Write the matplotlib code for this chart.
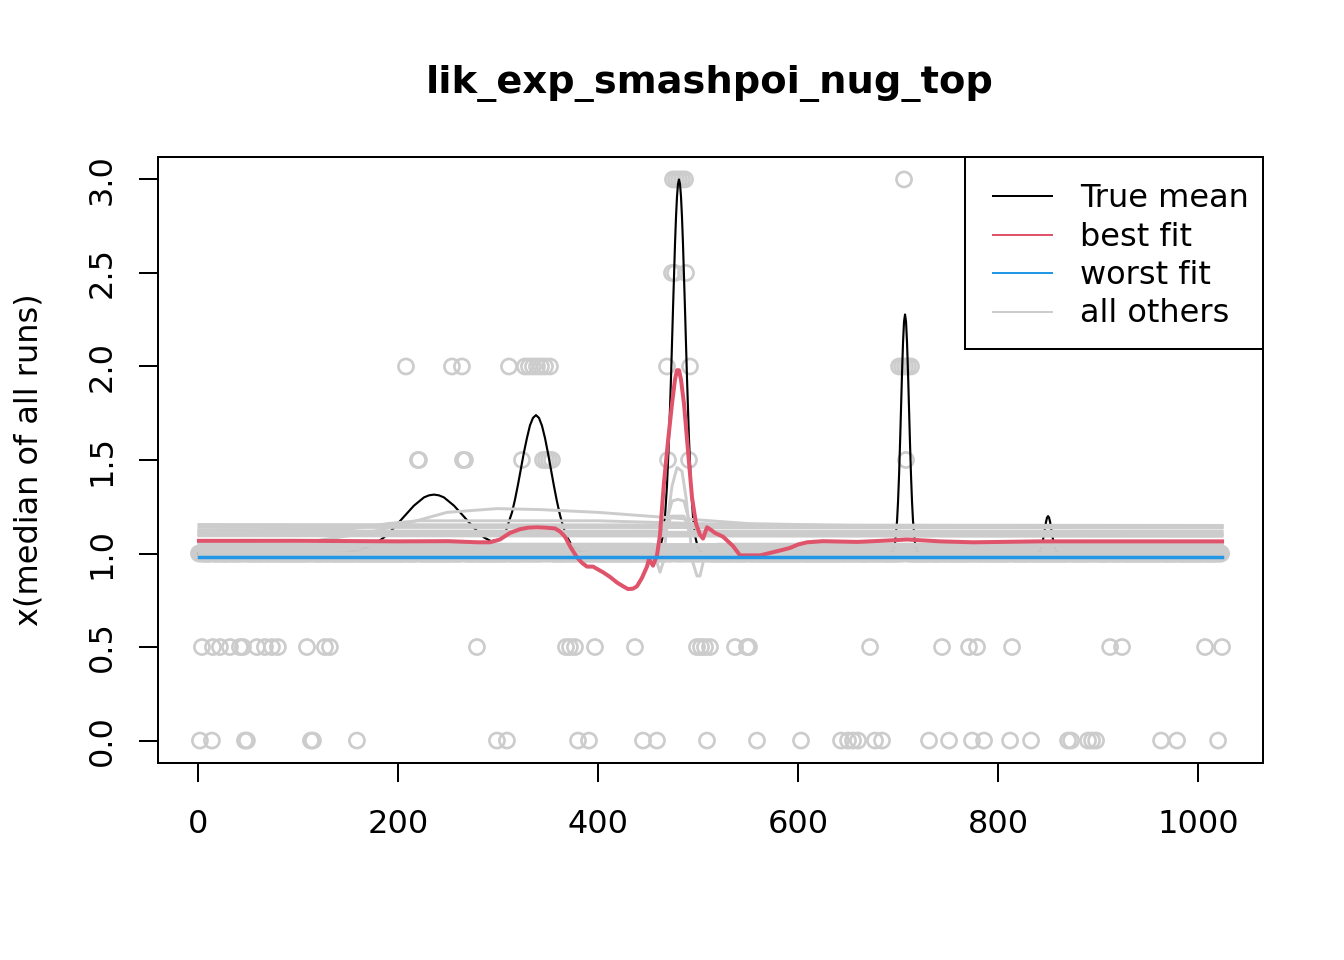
import numpy as np
import matplotlib.pyplot as plt
from matplotlib.lines import Line2D
from matplotlib.patches import Rectangle

n = 1024
idx = np.arange(1, n + 1)

# observed medians: 1.0 everywhere except at these positions
x_at_0 = [2, 14, 32, 47, 49, 113, 115, 159, 299, 309, 380, 391, 437, 445, 459,
          509, 559, 603, 643, 650, 655, 660, 677, 684, 731, 751, 774, 779, 786,
          812, 833, 870, 873, 890, 894, 898, 963, 979, 1020]
x_at_05 = [4, 15, 22, 32, 42, 45, 59, 67, 74, 80, 109, 127, 132, 279, 368, 372,
           377, 397, 437, 499, 503, 507, 512, 537, 549, 551, 672, 744, 771, 779,
           814, 912, 924, 1007, 1024]
x_at_15 = [220, 221, 265, 267, 324, 345, 348, 351, 354, 470, 491, 708]
x_at_2 = [208, 254, 264, 311, 327, 331, 335, 339, 343, 347, 352, 469, 474, 487,
          492, 701, 704, 707, 710, 713]
x_at_25 = [474, 477, 488]
x_at_3 = [475, 478, 481, 484, 487, 706]

# true mean
tm_x = [1, 120, 146, 161, 176, 186, 196, 206, 216, 226, 231, 236, 241, 246, 256,
        266, 276, 286, 293, 302, 308, 311, 314, 317, 320, 323, 326, 329, 332,
        335, 338, 341, 344, 347, 350, 353, 356, 359, 362, 365, 368, 374, 383,
        395, 455, 458, 462, 465, 467, 469, 471, 473, 475, 477, 478, 479, 480,
        481, 482, 483, 484, 485, 487, 489, 491, 493, 495, 497, 500, 504, 508,
        690, 692, 695, 697, 699, 700, 701, 702, 703, 704, 705, 706, 707, 708,
        709, 710, 711, 712, 713, 714, 715, 717, 719, 722, 725, 836, 839, 842,
        844, 846, 848, 849, 850, 851, 852, 854, 856, 858, 861, 864, 1024]
tm_y = [1.0, 1.0, 1.005, 1.017, 1.048, 1.086, 1.137, 1.197, 1.256, 1.30, 1.311,
        1.315, 1.311, 1.30, 1.256, 1.197, 1.137, 1.086, 1.066, 1.074, 1.121,
        1.172, 1.219, 1.288, 1.368, 1.455, 1.542, 1.618, 1.685, 1.725, 1.74,
        1.725, 1.683, 1.618, 1.537, 1.449, 1.36, 1.278, 1.206, 1.147, 1.10,
        1.041, 1.008, 1.0, 1.0, 1.004, 1.028, 1.096, 1.196, 1.364, 1.612, 1.938,
        2.306, 2.654, 2.798, 2.908, 2.976, 3.0, 2.976, 2.908, 2.798, 2.654,
        2.306, 1.938, 1.612, 1.364, 1.196, 1.096, 1.028, 1.004, 1.0, 1.0, 1.001,
        1.014, 1.056, 1.173, 1.276, 1.415, 1.585, 1.775, 1.965, 2.128, 2.24,
        2.278, 2.24, 2.128, 1.965, 1.775, 1.585, 1.415, 1.276, 1.173, 1.056,
        1.014, 1.001, 1.0, 1.0, 1.001, 1.015, 1.046, 1.104, 1.17, 1.192, 1.2,
        1.192, 1.17, 1.104, 1.046, 1.015, 1.001, 1.0, 1.0]

# best fit
best_x = [1, 100, 200, 250, 280, 292, 302, 312, 322, 330, 339, 348, 357, 362,
          367, 373, 379, 384, 389, 395, 405, 412, 419, 425, 430, 435, 439, 444,
          449, 451, 455, 459, 462, 466, 470, 474, 477, 479, 481, 483, 486, 490,
          494, 498, 502, 505, 509, 512, 517, 525, 535, 542, 562, 585, 592, 600,
          609, 625, 659, 692, 709, 742, 775, 842, 1024]
best_y = [1.068, 1.068, 1.065, 1.066, 1.06, 1.06, 1.075, 1.11, 1.13, 1.138, 1.14,
          1.138, 1.134, 1.118, 1.09, 1.03, 0.98, 0.95, 0.93, 0.93, 0.90, 0.875,
          0.845, 0.825, 0.81, 0.812, 0.825, 0.87, 0.93, 0.97, 0.935, 0.99, 1.1,
          1.38, 1.6, 1.8, 1.93, 1.98, 1.98, 1.93, 1.8, 1.55, 1.3, 1.16, 1.1,
          1.08, 1.14, 1.13, 1.11, 1.09, 1.04, 0.99, 0.99, 1.02, 1.03, 1.048,
          1.06, 1.066, 1.062, 1.07, 1.075, 1.065, 1.06, 1.065, 1.065]

# worst fit
worst_x = [1, 1024]
worst_y = [0.984, 0.984]

# all other runs: flat ones (left, right level) and a few shaped ones
flat_levels = [(1.155, 1.15), (1.14, 1.138), (1.115, 1.112), (1.105, 1.102),
               (1.095, 1.092), (1.05, 1.05), (1.04, 1.04), (1.025, 1.025),
               (1.01, 1.01), (1.0, 1.0), (0.995, 0.995)]
wide_x = [1, 120, 169, 215, 249, 299, 342, 400, 450, 500, 550, 650, 1024]
wide_y = [1.06, 1.07, 1.11, 1.17, 1.22, 1.24, 1.235, 1.22, 1.20, 1.18, 1.16,
          1.15, 1.148]
mid_x = [1, 150, 190, 220, 400, 500, 600, 1024]
mid_y = [1.125, 1.13, 1.16, 1.175, 1.175, 1.16, 1.145, 1.14]
spk1_x = [1, 455, 459, 462, 465, 470, 474, 479, 484, 488, 492, 495, 499, 502,
          505, 508, 520, 1024]
spk1_y = [1.05, 1.05, 0.95, 0.90, 0.95, 1.2, 1.36, 1.46, 1.44, 1.3, 1.1, 0.95,
          0.88, 0.88, 0.95, 1.03, 1.05, 1.05]
spk2_x = [1, 465, 470, 474, 480, 486, 490, 494, 1024]
spk2_y = [1.1, 1.1, 1.2, 1.28, 1.29, 1.28, 1.2, 1.1, 1.1]
spk3_x = [1, 468, 473, 486, 491, 1024]
spk3_y = [1.12, 1.12, 1.2, 1.2, 1.12, 1.12]

legend_labels = ['True mean', 'best fit', 'worst fit', 'all others']

grey = '#CCCCCC'
red = '#DF536B'
blue = '#2297E6'

obs = np.ones(n)
for xs, v in [(x_at_0, 0.0), (x_at_05, 0.5), (x_at_15, 1.5), (x_at_2, 2.0),
              (x_at_25, 2.5), (x_at_3, 3.0)]:
    obs[np.array(xs) - 1] = v

plt.rcParams['font.family'] = 'DejaVu Sans'
W, H = 1344, 960
fig = plt.figure(figsize=(7, 5), dpi=192)
ax = fig.add_axes([158 / W, 1 - 763 / H, 1105 / W, 606 / H])

ax.scatter(idx, obs, s=32, facecolors='none', edgecolors=grey, linewidths=1.0)
ax.plot(tm_x, tm_y, color='black', lw=0.8)
for a, b in flat_levels:
    ax.plot([1, n], [a, b], color=grey, lw=1.1)
for xs, ys in [(wide_x, wide_y), (mid_x, mid_y), (spk1_x, spk1_y),
               (spk2_x, spk2_y), (spk3_x, spk3_y)]:
    ax.plot(xs, ys, color=grey, lw=1.1)
ax.plot(best_x, best_y, color=red, lw=1.5)
ax.plot(worst_x, worst_y, color=blue, lw=1.3)

ax.set_xlim(1 - 0.04 * 1023, 1024 + 0.04 * 1023)
ax.set_ylim(-0.12, 3.12)
ax.set_xticks([0, 200, 400, 600, 800, 1000])
ax.set_yticks([0.0, 0.5, 1.0, 1.5, 2.0, 2.5, 3.0])
ax.set_yticklabels(['0.0', '0.5', '1.0', '1.5', '2.0', '2.5', '3.0'],
                   rotation=90, va='center')
ax.tick_params(length=7.2, width=0.75, labelsize=12)
ax.tick_params(axis='x', pad=10)
ax.tick_params(axis='y', pad=8)
for s in ax.spines.values():
    s.set_linewidth(0.75)

fig.text(710 / W, 1 - 93 / H, 'lik_exp_smashpoi_nug_top', ha='center',
         va='baseline', fontsize=14.4, fontweight='bold')
fig.text(29 / W, 1 - 460 / H, 'x(median of all runs)', rotation=90,
         ha='center', va='center', fontsize=12)

# legend box, R style
fig.patches.append(Rectangle((965 / W, 1 - 349 / H), 298 / W, 192 / H,
                             transform=fig.transFigure, facecolor='white',
                             edgecolor='black', lw=0.75, zorder=5))
for i, (lab, col) in enumerate(zip(legend_labels, ['black', red, blue, grey])):
    yy = 1 - (196 + 38.5 * i) / H
    fig.add_artist(Line2D([993 / W, 1052 / W], [yy, yy], color=col, lw=0.75,
                          transform=fig.transFigure, zorder=6))
    fig.text(1080 / W, yy - 2.5 / H, lab, ha='left', va='center', fontsize=12,
             zorder=6)

fig.savefig('out.png', dpi=192)
